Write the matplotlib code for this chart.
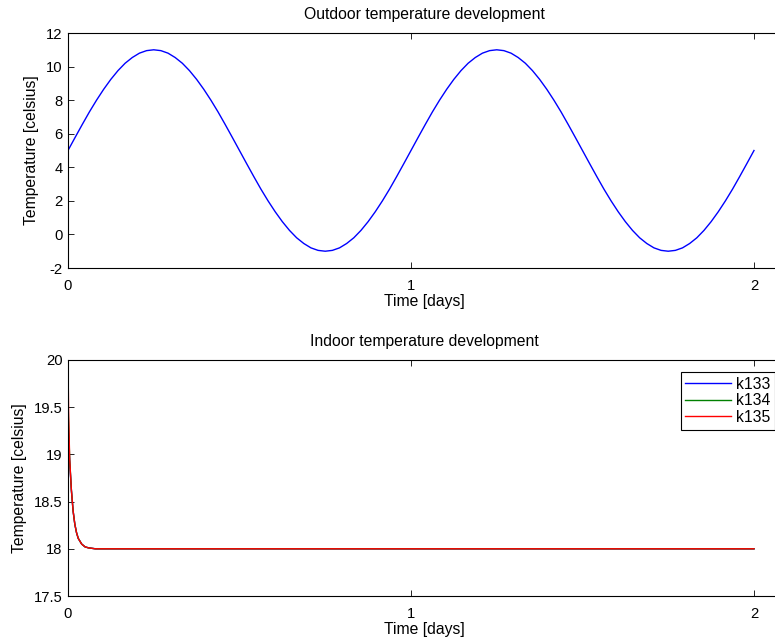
import numpy as np
import matplotlib
matplotlib.use('Agg')
import matplotlib.pyplot as plt

plt.rcParams['font.family'] = ['Liberation Sans', 'DejaVu Sans']
plt.rcParams['font.size'] = 11.3
plt.rcParams['axes.unicode_minus'] = False

# outdoor temperature, read every half hour (48 per day)
outdoor_day1 = [5.00, 5.78, 6.55, 7.30, 8.00, 8.65, 9.24, 9.76, 10.20, 10.54, 10.80, 10.95,
                11.00, 10.95, 10.80, 10.54, 10.20, 9.76, 9.24, 8.65, 8.00, 7.30, 6.55, 5.78,
                5.00, 4.22, 3.45, 2.70, 2.00, 1.35, 0.76, 0.24, -0.20, -0.54, -0.80, -0.95,
                -1.00, -0.95, -0.80, -0.54, -0.20, 0.24, 0.76, 1.35, 2.00, 2.70, 3.45, 4.22]
outdoor_day2 = [5.00, 5.78, 6.55, 7.30, 8.00, 8.65, 9.24, 9.76, 10.20, 10.54, 10.80, 10.95,
                11.00, 10.95, 10.80, 10.54, 10.20, 9.76, 9.24, 8.65, 8.00, 7.30, 6.55, 5.78,
                5.00, 4.22, 3.45, 2.70, 2.00, 1.35, 0.76, 0.24, -0.20, -0.54, -0.80, -0.95,
                -1.00, -0.95, -0.80, -0.54, -0.20, 0.24, 0.76, 1.35, 2.00, 2.70, 3.45, 4.22, 5.00]
outdoor = outdoor_day1 + outdoor_day2
t_out = np.linspace(0, 2, len(outdoor))

# indoor temperature
t_in = [0, 0.002, 0.005, 0.01, 0.015, 0.02, 0.025, 0.03, 0.04, 0.05, 0.06, 0.08, 0.1, 0.5, 1.0, 1.5, 2.0]
k133 = [19.30, 19.15, 18.92, 18.62, 18.40, 18.26, 18.17, 18.11, 18.05, 18.02, 18.01, 18.0, 18.0, 18.0, 18.0, 18.0, 18.0]
k134 = [19.60, 19.30, 18.94, 18.62, 18.40, 18.26, 18.17, 18.11, 18.05, 18.02, 18.01, 18.0, 18.0, 18.0, 18.0, 18.0, 18.0]
k135 = [20.00, 19.40, 18.95, 18.62, 18.40, 18.26, 18.17, 18.11, 18.05, 18.02, 18.01, 18.0, 18.0, 18.0, 18.0, 18.0, 18.0]

fig = plt.figure(figsize=(7.75, 6.41), dpi=100)
ax1 = fig.add_axes([0.0877, 0.5819, 0.9206, 0.3666])
ax2 = fig.add_axes([0.0877, 0.0702, 0.9206, 0.3682])

ax1.plot(t_out, outdoor, color='#0000ff', lw=1.0)
ax1.set_ylim(-2, 12)
ax1.set_yticks(range(-2, 13, 2))

ax2.plot(t_in, k133, color='#0000ff', lw=1.0, label='k133')
ax2.plot(t_in, k134, color='#008000', lw=1.0, label='k134')
ax2.plot(t_in, k135, color='#ff0000', lw=1.0, label='k135')
ax2.set_ylim(17.5, 20)
ax2.set_yticks([17.5, 18, 18.5, 19, 19.5, 20])
ax2.set_yticklabels(['17.5', '18', '18.5', '19', '19.5', '20'])

titles = ['Outdoor temperature development', 'Indoor temperature development']
for ax, title in zip([ax1, ax2], titles):
    ax.set_xlim(0, 2.08)
    ax.set_xticks([0, 1, 2])
    ax.tick_params(direction='in', length=4, width=0.6, top=True, right=False, labelsize=10.6)
    ax.tick_params(axis='x', pad=8)
    ax.tick_params(axis='y', pad=4)
    for s in ax.spines.values():
        s.set_linewidth(0.8)
    ax.text(0.5, 1.058, title, transform=ax.transAxes, ha='center', va='baseline')
    ax.set_xlabel('Time [days]')
    ax.xaxis.set_label_coords(0.5, -0.112)
    ax.set_ylabel('Temperature [celsius]', labelpad=5)

fig.legend(loc='upper right', bbox_to_anchor=(0.9995, 0.4195), frameon=True, fancybox=False,
           edgecolor='black', framealpha=1, borderpad=0.3, labelspacing=0.1,
           handlelength=2.9, handletextpad=0.3, borderaxespad=0)
leg = fig.legends[0]
leg.get_frame().set_linewidth(0.8)

fig.savefig('out.png', dpi=100)
